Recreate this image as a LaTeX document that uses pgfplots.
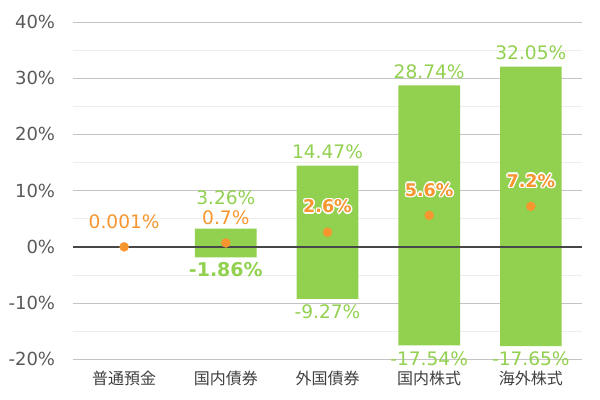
\documentclass[border=0pt]{standalone}
\usepackage{pgfplots}
\pgfplotsset{compat=1.18}
\usepackage{pgfplotstable}
\usepackage{fontspec}
\setmainfont{DejaVu Sans}
\newfontfamily\jp{Noto Sans CJK JP}
\usepackage{contour}
\contourlength{1.4pt}
\contournumber{8}
\definecolor{bargreen}{HTML}{92D050}
\definecolor{dotorange}{HTML}{F7952F}
\definecolor{txtgray}{HTML}{595959}
\definecolor{catgray}{HTML}{404040}

% floating bars: x, min, max
\pgfplotstableread{
x lo hi
1 -1.86 3.26
2 -9.27 14.47
3 -17.54 28.74
4 -17.65 32.05
}\bars
% mean values
\pgfplotstableread{
x m
0 0.001
1 0.7
2 2.6
3 5.6
4 7.2
}\means

\begin{document}
\begin{tikzpicture}
\begin{axis}[
  scale only axis,
  width=508.4pt, height=337.3pt,
  xmin=-0.5, xmax=4.5, ymin=-20, ymax=40,
  xtick={0,1,2,3,4},
  xticklabels={普通預金,国内債券,外国債券,国内株式,海外株式},
  ytick={-20,-10,0,10,20,30,40},
  yticklabels={{-20\%},{-10\%},{0\%},{10\%},{20\%},{30\%},{40\%}},
  minor ytick={-15,-5,5,15,25,35},
  ymajorgrids, yminorgrids,
  major grid style={draw=black!23, line width=0.9pt},
  minor grid style={draw=black!7, line width=0.9pt},
  axis line style={draw=none},
  major tick length=0pt, minor tick length=0pt,
  tick style={draw=none},
  yticklabel style={font=\fontsize{18}{18}\selectfont, text=txtgray, anchor=east, inner sep=0pt, xshift=-18pt},
  xticklabel style={font=\jp\fontsize{16}{16}\selectfont, text=catgray, anchor=center, inner sep=0pt, yshift=-19pt},
  clip=false,
]
\coordinate (SW) at (axis cs:-0.5,-20);
\coordinate (NE) at (axis cs:4.5,40);

% bar from 0 to max
\addplot[ybar, bar width=61.7pt, bar shift=0pt, fill=bargreen, draw=none]
  table[x=x, y=hi] \bars;
% bar from 0 to min
\addplot[ybar, bar width=61.7pt, bar shift=0pt, fill=bargreen, draw=none]
  table[x=x, y=lo] \bars;

% zero line
\addplot[draw=black!72, line width=1.3pt, mark=none] coordinates {(-0.5,0) (4.5,0)};

% mean dots
\addplot[only marks, mark=*, mark size=4.5pt, color=dotorange, mark options={draw=none, fill=dotorange}]
  table[x=x, y=m] \means;

% max labels (regular)
\addplot[only marks, mark=none, point meta=explicit symbolic,
  nodes near coords={\pgfplotspointmeta\%},
  every node near coord/.append style={font=\fontsize{18.6}{18}\selectfont, text=bargreen, anchor=center, yshift=13.8pt}]
  coordinates {(2,14.47) [14.47] (3,28.74) [28.74] (4,32.05) [32.05]};
% max label 国内債券 (raised)
\addplot[only marks, mark=none, point meta=explicit symbolic,
  nodes near coords={\pgfplotspointmeta\%},
  every node near coord/.append style={font=\fontsize{18.6}{18}\selectfont, text=bargreen, anchor=center, yshift=31pt}]
  coordinates {(1,3.26) [3.26]};
% min labels
\addplot[only marks, mark=none, point meta=explicit symbolic,
  nodes near coords={\pgfplotspointmeta\%},
  every node near coord/.append style={font=\fontsize{18.6}{18}\selectfont, text=bargreen, anchor=center, yshift=-13pt}]
  coordinates {(2,-9.27) [-9.27] (3,-17.54) [-17.54] (4,-17.65) [-17.65]};
\addplot[only marks, mark=none, point meta=explicit symbolic,
  nodes near coords={\textbf{\pgfplotspointmeta\%}},
  every node near coord/.append style={font=\fontsize{19}{18}\selectfont, text=bargreen, anchor=center, yshift=-12.5pt}]
  coordinates {(1,-1.86) [-1.86]};
% mean labels regular
\addplot[only marks, mark=none, point meta=explicit symbolic,
  nodes near coords={\pgfplotspointmeta\%},
  every node near coord/.append style={font=\fontsize{18.6}{18}\selectfont, text=dotorange, anchor=center, yshift=25pt}]
  coordinates {(0,0.001) [0.001] (1,0.7) [0.7]};
% mean labels bold with white halo
\addplot[only marks, mark=none, point meta=explicit symbolic,
  nodes near coords={\contour{white}{\textcolor{dotorange}{\textbf{\pgfplotspointmeta\%}}}},
  every node near coord/.append style={font=\fontsize{17.5}{18}\selectfont, anchor=center, yshift=25pt}]
  coordinates {(2,2.6) [2.6] (3,5.6) [5.6] (4,7.2) [7.2]};
\end{axis}
\pgfresetboundingbox
\path ([shift={(-73.3pt,-40.7pt)}]SW) rectangle ([shift={(18.3pt,22pt)}]NE);
\end{tikzpicture}
\end{document}
